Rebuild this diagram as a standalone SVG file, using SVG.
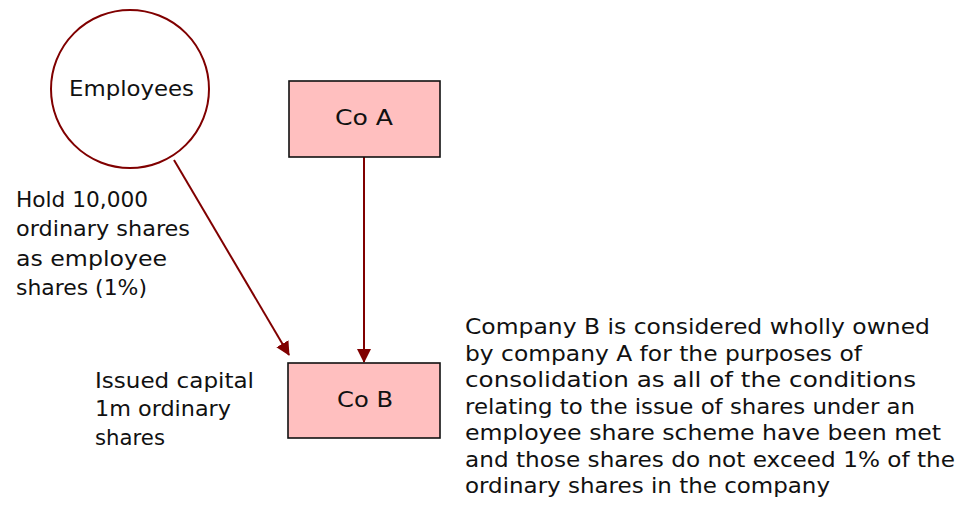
<svg xmlns="http://www.w3.org/2000/svg" width="966" height="514" viewBox="0 0 966 514">
<defs>
<style>
text{font-family:"DejaVu Sans","Liberation Sans",sans-serif;font-size:21.5px;fill:#111}
.box{fill:#FFBFBF;stroke:#111;stroke-width:1.6}
.edge{stroke:#800000;stroke-width:2;fill:none}
</style>
<marker id="ah" markerUnits="userSpaceOnUse" markerWidth="14" markerHeight="14" viewBox="0 0 14 14" refX="13" refY="7" orient="auto">
<path d="M0,0 L14,7 L0,14 Z" fill="#800000"/>
</marker>
</defs>
<rect width="966" height="514" fill="#fff"/>
<g id="connectors">
<line class="edge" x1="174" y1="160" x2="289" y2="355" marker-end="url(#ah)"/>
<line class="edge" x1="364" y1="157" x2="364" y2="362" marker-end="url(#ah)"/>
</g>
<g id="employees">
<circle cx="130" cy="89" r="79" fill="#fff" stroke="#800000" stroke-width="2"/>
<text x="69" y="96" textLength="125" lengthAdjust="spacingAndGlyphs">Employees</text>
</g>
<g id="coA">
<rect class="box" x="289" y="81" width="151" height="76"/>
<text x="335" y="125" textLength="58" lengthAdjust="spacingAndGlyphs">Co A</text>
</g>
<g id="coB">
<rect class="box" x="288" y="363" width="152" height="75"/>
<text x="337" y="407" textLength="56" lengthAdjust="spacingAndGlyphs">Co B</text>
</g>
<g id="holdLabel">
<text x="16" y="207" textLength="132" lengthAdjust="spacingAndGlyphs">Hold 10,000</text>
<text x="16" y="236" textLength="174" lengthAdjust="spacingAndGlyphs">ordinary shares</text>
<text x="16" y="266" textLength="151" lengthAdjust="spacingAndGlyphs">as employee</text>
<text x="16" y="295" textLength="131" lengthAdjust="spacingAndGlyphs">shares (1%)</text>
</g>
<g id="issuedLabel">
<text x="95" y="388" textLength="159" lengthAdjust="spacingAndGlyphs">Issued capital</text>
<text x="95" y="416" textLength="136" lengthAdjust="spacingAndGlyphs">1m ordinary</text>
<text x="95" y="445" textLength="70" lengthAdjust="spacingAndGlyphs">shares</text>
</g>
<g id="note">
<text x="465" y="334" textLength="465" lengthAdjust="spacingAndGlyphs">Company B is considered wholly owned</text>
<text x="465" y="361" textLength="397" lengthAdjust="spacingAndGlyphs">by company A for the purposes of</text>
<text x="465" y="387" textLength="451" lengthAdjust="spacingAndGlyphs">consolidation as all of the conditions</text>
<text x="465" y="414" textLength="450" lengthAdjust="spacingAndGlyphs">relating to the issue of shares under an</text>
<text x="465" y="440" textLength="476" lengthAdjust="spacingAndGlyphs">employee share scheme have been met</text>
<text x="465" y="467" textLength="490" lengthAdjust="spacingAndGlyphs">and those shares do not exceed 1% of the</text>
<text x="465" y="493" textLength="365" lengthAdjust="spacingAndGlyphs">ordinary shares in the company</text>
</g>
</svg>
